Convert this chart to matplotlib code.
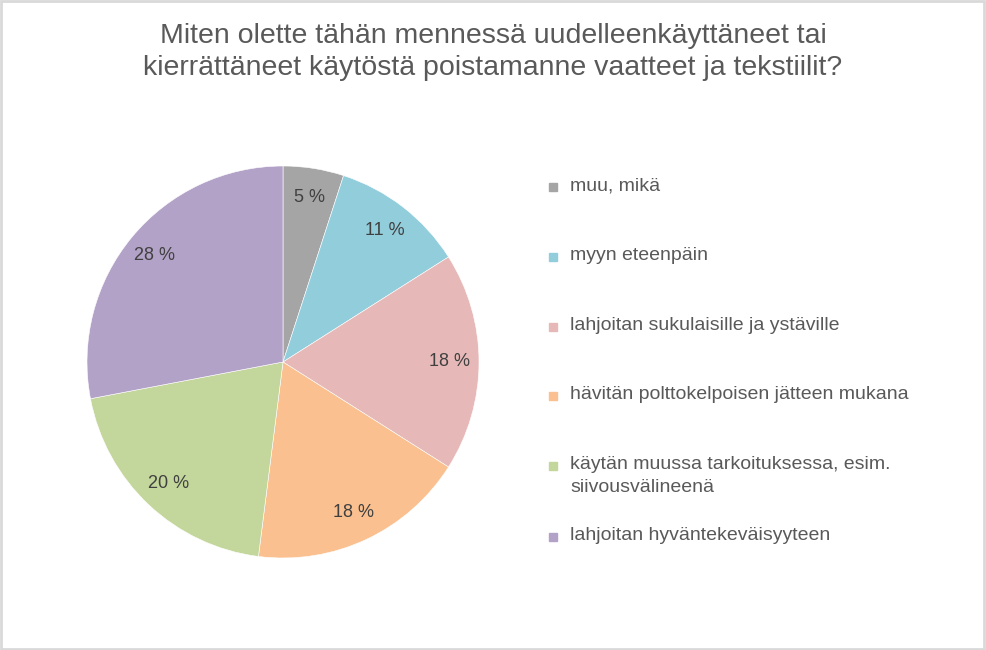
import matplotlib.pyplot as plt
from matplotlib.patches import Rectangle

# --- data ---
title = ("Miten olette tähän mennessä uudelleenkäyttäneet tai\n"
         "kierrättäneet käytöstä poistamanne vaatteet ja tekstiilit?")
labels = [
    "muu, mikä",
    "myyn eteenpäin",
    "lahjoitan sukulaisille ja ystäville",
    "hävitän polttokelpoisen jätteen mukana",
    "käytän muussa tarkoituksessa, esim.\nsiivousvälineenä",
    "lahjoitan hyväntekeväisyyteen",
]
shares = [5, 11, 18, 18, 20, 28]
colors = ["#a5a5a5", "#92cddc", "#e6b9b8", "#fac090", "#c3d69b", "#b3a2c7"]

W, H = 986, 650
plt.rcParams["font.family"] = ["Liberation Sans", "DejaVu Sans"]

fig = plt.figure(figsize=(W / 100, H / 100), dpi=100)

# pie axes: centre (283, 362) px, radius ~196 px
cx, cy, r = 283, 362, 196
ax = fig.add_axes([(cx - r) / W, (H - cy - r) / H, 2 * r / W, 2 * r / H])
wedges, _, autotexts = ax.pie(
    shares, colors=colors, startangle=90, counterclock=False,
    autopct=lambda p: f"{p:.0f} %", pctdistance=0.85,
    wedgeprops=dict(edgecolor="white", linewidth=0.4),
    textprops=dict(fontsize=13, color="#404040"),
)
ax.set_aspect("equal")
ax.set_xlim(-1, 1)
ax.set_ylim(-1, 1)

fig.text(0.5, 1 - 52 / H, title, ha="center", va="center",
         fontsize=20.5, color="#595959", linespacing=1.33)

# legend drawn by hand so the marker sits on the first text line
rows_y = [187, 257, 327, 396, 466, 537]
for lab, col, y in zip(labels, colors, rows_y):
    fig.patches.append(Rectangle((549 / W, 1 - (y + 4) / H), 8 / W, 8 / H,
                                 transform=fig.transFigure, color=col))
    fig.text(570 / W, 1 - (y - 10) / H, lab, ha="left", va="top",
             fontsize=14, color="#595959", linespacing=1.45)

# light grey frame around the chart area
fig.patches.append(Rectangle((0.001, 0.001), 0.997, 0.997, transform=fig.transFigure,
                             fill=False, edgecolor="#d9d9d9", linewidth=2))

fig.savefig("out.png", dpi=100)
